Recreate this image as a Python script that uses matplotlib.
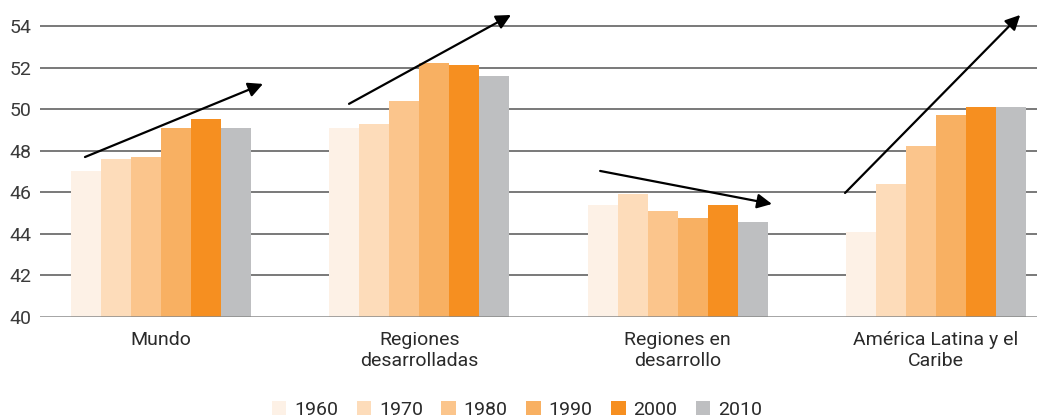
import numpy as np
import matplotlib
matplotlib.use('Agg')
import matplotlib.pyplot as plt
from matplotlib.patches import Patch

plt.rcParams['font.family'] = ['Roboto', 'DejaVu Sans']

regiones = ['Mundo', 'Regiones\ndesarrolladas', 'Regiones en\ndesarrollo', 'América Latina y el\nCaribe']
anios = ['1960', '1970', '1980', '1990', '2000', '2010']
colores = ['#FDF1E6', '#FDDCBA', '#FBC58C', '#F8B062', '#F68F20', '#BEBFC1']

# values per decade, one list per year, in region order
v1960 = [47.0, 49.1, 45.4, 44.1]
v1970 = [47.6, 49.3, 45.9, 46.4]
v1980 = [47.7, 50.4, 45.1, 48.2]
v1990 = [49.1, 52.2, 44.75, 49.7]
v2000 = [49.5, 52.1, 45.4, 50.1]
v2010 = [49.1, 51.6, 44.55, 50.1]
series = [v1960, v1970, v1980, v1990, v2000, v2010]

# trend arrows (start x, start y, end x, end y) in data units
flechas = [(-0.294, 47.69, 0.395, 51.21),
           (0.728, 50.25, 1.355, 54.53),
           (1.70, 47.02, 2.365, 45.43),
           (2.648, 45.96, 3.326, 54.53)]

fig = plt.figure(figsize=(10.37, 4.19), dpi=100)
ax = fig.add_axes([0.0386, 0.244, 0.9614, 0.756])

x = np.arange(len(regiones))
ancho = 30 / 258.3
for i, vals in enumerate(series):
    ax.bar(x + (i - 2.5) * ancho, np.array(vals) - 40, width=ancho, bottom=40,
           color=colores[i], zorder=3, label=anios[i])

for t in range(42, 56, 2):
    ax.axhline(t, color='#555555', lw=1.1, zorder=1)
ax.axhline(40, color='#8a8a8a', lw=1.8, zorder=4)

for x0, y0, x1, y1 in flechas:
    ax.annotate('', xy=(x1, y1), xytext=(x0, y0), annotation_clip=False,
                arrowprops=dict(arrowstyle='-|>', color='black', lw=1.6,
                                mutation_scale=22, shrinkA=0, shrinkB=0), zorder=5)

ax.set_xlim(-0.468, 3.391)
ax.set_ylim(40, 55.25)
ax.set_yticks(range(40, 56, 2))
ax.set_xticks(x)
ax.set_xticklabels(regiones, fontsize=14, color='#2a2a2a', linespacing=1.25)
ax.tick_params(axis='x', length=0, pad=10)
ax.tick_params(axis='y', length=0, pad=6, labelsize=14, labelcolor='#3a3a3a')
for s in ax.spines.values():
    s.set_visible(False)

handles = [Patch(facecolor=c, edgecolor='none') for c in colores]
fig.legend(handles, anios, loc='center', bbox_to_anchor=(517 / 1037, 1 - 410 / 419),
           ncol=6, frameon=False, handlelength=0.75, handleheight=0.75,
           handletextpad=0.4, columnspacing=0.95, prop={'size': 14},
           labelcolor='#2a2a2a')

fig.savefig('out.png', dpi=100)
